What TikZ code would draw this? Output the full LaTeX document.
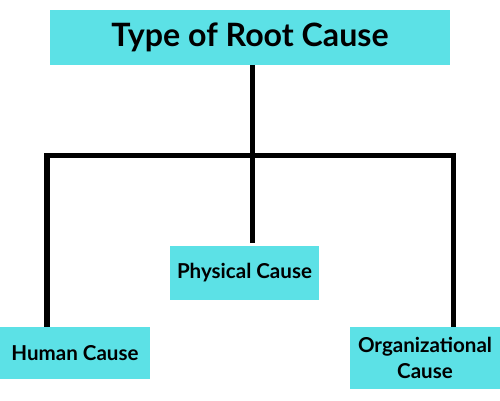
\documentclass[tikz,border=0pt]{standalone}
\usepackage{fontspec}
\setmainfont{Lato}
\usepackage{xcolor}
\usepackage{tikz}
\usetikzlibrary{positioning, calc}
\definecolor{mycyan}{HTML}{5CE1E6}
\definecolor{mydark}{RGB}{0,0,0}
\tikzset{
  causebox/.style={rectangle, fill=mycyan, draw=none,
    align=center, minimum width=3cm, minimum height=1.04cm,
    inner sep=0pt, font=\fontsize{11.7}{14.4}\selectfont\bfseries, text=mydark},
  treeline/.style={line width=2.85pt, color=mydark, line join=miter, line cap=butt}
}
\begin{document}
\begin{tikzpicture}[x=0.02cm, y=-0.02cm,
  rootbox/.style={rectangle, fill=mycyan, draw=none, minimum width=8cm,
    minimum height=1.1cm, inner sep=0pt,
    font=\fontsize{18.3}{21}\selectfont\bfseries, text=mydark}
]
  \useasboundingbox (0,0) rectangle (500,400);

  \node[rootbox] (root) at (250,37.5) {Type of Root Cause};
  \node[causebox, minimum width=2.98cm, minimum height=1.08cm] (physical) at (244.5,273) {Physical Cause};
  \node[causebox] (human) at (75,353) {Human Cause};
  \node[causebox, minimum height=1.24cm] (org) at (425,358) {Organizational\\Cause};

  \coordinate (j) at (252,155);
  \coordinate (hl) at (47,155);
  \coordinate (hr) at (453,155);

  % branches
  \draw[treeline] (root.south -| j) -- (j);
  \draw[treeline] (human.north -| hl) -- (hl) -- (hr) -- (org.north -| hr);
  \draw[treeline, shorten >=0.06cm] (j) -- (physical.north -| j);
\end{tikzpicture}
\end{document}
